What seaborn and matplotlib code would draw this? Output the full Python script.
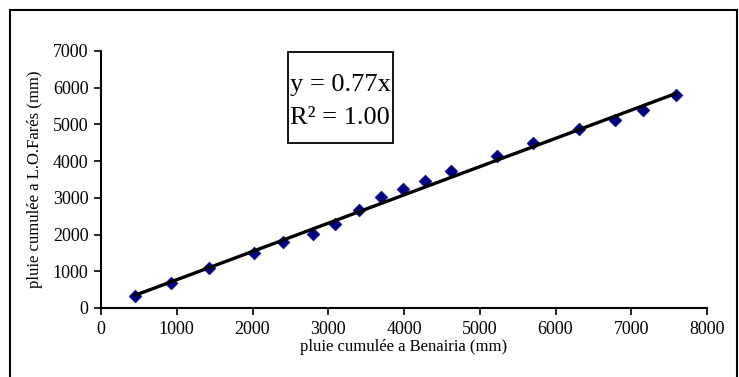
import numpy as np
import pandas as pd
import matplotlib
matplotlib.use("Agg")
import matplotlib.pyplot as plt
from matplotlib.patches import Rectangle
import seaborn as sns

# Cumulative rainfall (mm) at the two stations
benairia = [450, 925, 1425, 2025, 2400, 2795, 3090, 3400, 3695, 3985,
            4275, 4615, 5225, 5700, 6315, 6785, 7150, 7585]
lo_fares = [330, 670, 1080, 1490, 1805, 2015, 2290, 2670, 3015, 3240,
            3460, 3740, 4150, 4485, 4865, 5120, 5395, 5800]

x_ticks = [0, 1000, 2000, 3000, 4000, 5000, 6000, 7000, 8000]
y_ticks = [0, 1000, 2000, 3000, 4000, 5000, 6000, 7000]

x_label = "pluie cumulée a Benairia (mm)"
y_label = "pluie cumulée a L.O.Farés (mm)"

df = pd.DataFrame({"x": benairia, "y": lo_fares})

# Least-squares line through the origin
xv = df["x"].to_numpy(float)
yv = df["y"].to_numpy(float)
slope = float(np.sum(xv * yv) / np.sum(xv * xv))
r2 = 1.0 - np.sum((yv - slope * xv) ** 2) / np.sum((yv - yv.mean()) ** 2)
slope_txt = round(slope, 2)
fit = pd.DataFrame({"x": [xv.min(), xv.max()]})
fit["y"] = slope_txt * fit["x"]

sns.set_style("ticks")
plt.rcParams["font.family"] = ["Liberation Serif", "DejaVu Serif"]
plt.rcParams["text.color"] = "black"
plt.rcParams["axes.labelcolor"] = "black"
plt.rcParams["xtick.direction"] = "out"
plt.rcParams["ytick.direction"] = "out"

W, H = 739, 377
fig = plt.figure(figsize=(W / 100, H / 100), dpi=100)
fig.patch.set_facecolor("white")

# outer chart frame
fig.patches.append(Rectangle((10 / W, -0.05), 727 / W, 1 - 10 / H + 0.05,
                             transform=fig.transFigure, fill=False,
                             edgecolor="black", linewidth=1.5))

ax = fig.add_axes([101 / W, (H - 308) / H, 606 / W, 257 / H])

sns.lineplot(data=fit, x="x", y="y", ax=ax, color="black", linewidth=2.4,
             zorder=3)
sns.scatterplot(data=df, x="x", y="y", ax=ax, marker="D", s=44,
                color="#000080", edgecolor="#000080", linewidth=0.3,
                zorder=2)

ax.set_xlim(0, 8000)
ax.set_ylim(0, 7000)
ax.set_xticks(x_ticks)
ax.set_yticks(y_ticks)
ax.set_xticklabels([str(v) for v in x_ticks])
ax.set_yticklabels([str(v) for v in y_ticks])
ax.tick_params(axis="both", labelsize=13, length=5, width=1.2,
               color="black", labelcolor="black")
ax.tick_params(axis="x", pad=4)
ax.tick_params(axis="y", pad=4)

for side in ("top", "right"):
    ax.spines[side].set_visible(False)
for side in ("left", "bottom"):
    ax.spines[side].set_color("black")
    ax.spines[side].set_linewidth(1.5)

ax.set_xlabel(x_label, fontsize=12, labelpad=1)
ax.set_ylabel(y_label, fontsize=12, labelpad=7)

# equation box
ax.add_patch(Rectangle((0.309, 0.642), 0.173, 0.354, transform=ax.transAxes,
                       fill=False, edgecolor="black", linewidth=1.3,
                       clip_on=False))
ax.text(0.395, 0.868, f"y = {slope_txt:.2f}x", transform=ax.transAxes,
        ha="center", va="center", fontsize=19)
ax.text(0.395, 0.739, f"R² = {r2:.2f}", transform=ax.transAxes,
        ha="center", va="center", fontsize=19)

fig.savefig("out.png", dpi=100, facecolor="white")
